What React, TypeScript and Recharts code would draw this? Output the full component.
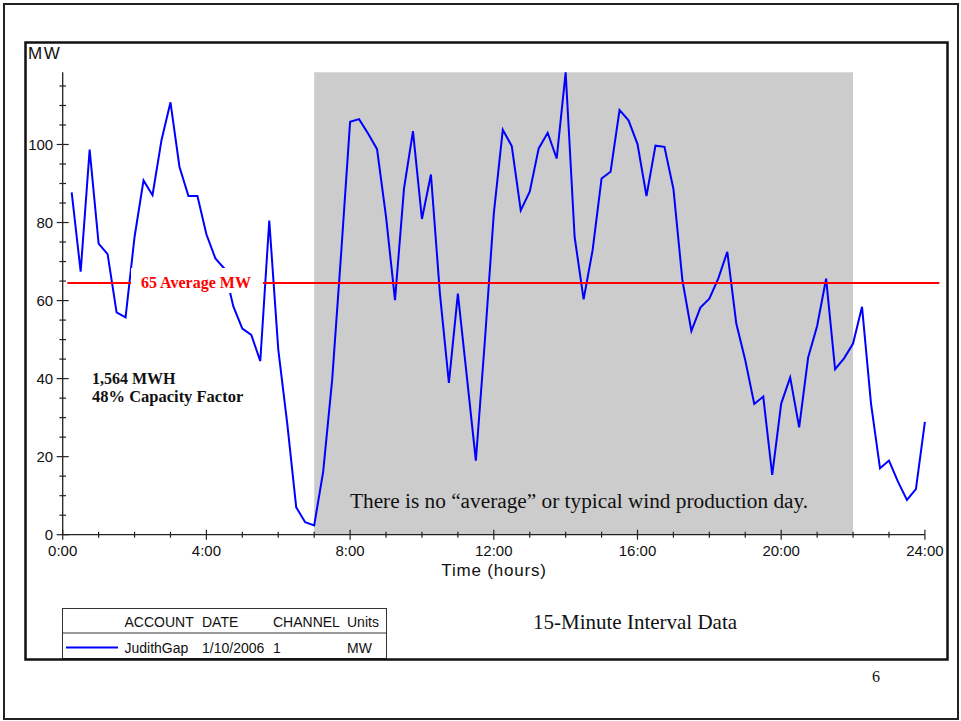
import { Legend, Line, LineChart, ReferenceArea, ReferenceLine, XAxis, YAxis } from "recharts";

// JudithGap, 1/10/2006, MW in 15-minute steps from 0:15 to 24:00
const MW = [
  87.7, 67.4, 98.7, 74.6, 71.9, 57.0, 55.7, 76.3,
  90.8, 87.0, 101.1, 110.8, 94.3, 86.8, 86.8, 77.0,
  70.8, 68.2, 58.5, 52.8, 51.2, 44.5, 80.5, 47.5,
  28.5, 7.0, 3.2, 2.4, 16.1, 39.6, 72.0, 105.8,
  106.5, 102.8, 98.8, 81.5, 60.1, 88.7, 103.4, 80.9,
  92.3, 61.8, 38.9, 61.8, 40.5, 19.0, 49.5, 82.3,
  103.8, 99.6, 83.1, 87.9, 99.0, 103.0, 96.4, 118.5,
  76.3, 60.3, 72.9, 91.3, 93.0, 108.8, 106.2, 100.1,
  86.8, 99.7, 99.4, 88.6, 65.2, 52.2, 58.2, 60.5,
  65.7, 72.5, 54.1, 44.7, 33.5, 35.4, 15.3, 33.6,
  40.3, 27.5, 45.4, 53.5, 65.6, 42.4, 45.2, 49.0,
  58.4, 33.6, 17.0, 19.0, 13.6, 8.9, 11.7, 28.9,
];

const X_TICKS = [0, 1, 2, 3, 4, 5, 6, 7, 8, 9, 10, 11, 12, 13, 14, 15, 16, 17, 18, 19, 20, 21, 22, 23, 24];
const X_LABELED = [0, 4, 8, 12, 16, 20, 24];
const Y_TICKS = [0, 5, 10, 15, 20, 25, 30, 35, 40, 45, 50, 55, 60, 65, 70, 75, 80, 85, 90, 95, 100, 105, 110, 115];
const Y_LABELED = [0, 20, 40, 60, 80, 100];

const AVERAGE_MW = 64.5;
const PEAK_HOURS = [7, 22];

const LEGEND_HEADERS = ["ACCOUNT", "DATE", "CHANNEL", "Units"];
const LEGEND_ROW = ["JudithGap", "1/10/2006", "1", "MW"];
const LEGEND_COLS = [62.5, 140, 211, 285];

const data = MW.map((mw, i) => ({ hour: (i + 1) * 0.25, mw }));

const SANS = "'Liberation Sans', Arial, sans-serif";
const SERIF = "'Liberation Serif', 'Times New Roman', serif";
const AXIS = "#222";

function XTick(props: any) {
  const { x, y, payload } = props;
  const major = X_LABELED.includes(payload.value);
  const r = major ? 5 : 3;
  return (
    <g>
      <line x1={x} x2={x} y1={y - r} y2={y + r} stroke={AXIS} strokeWidth={1.2} />
      {major && (
        <text x={x} y={y + 21.3} textAnchor="middle" fontFamily={SANS} fontSize={15} fill="#111">
          {payload.value + ":00"}
        </text>
      )}
    </g>
  );
}

function YTick(props: any) {
  const { x, y, payload } = props;
  const major = Y_LABELED.includes(payload.value);
  const r = major ? 6 : 3.3;
  return (
    <g>
      <line x1={x - r} x2={x + r} y1={y} y2={y} stroke={AXIS} strokeWidth={1.2} />
      {major && (
        <text x={x - 9.5} y={y + 5.3} textAnchor="end" fontFamily={SANS} fontSize={15} fill="#111">
          {payload.value}
        </text>
      )}
    </g>
  );
}

function LegendTable() {
  return (
    <svg width={325} height={51} style={{ display: "block" }}>
      <rect x={0.5} y={0.5} width={324} height={50} fill="#fff" stroke="#333" strokeWidth={1} />
      <line x1={0.5} x2={324.5} y1={25} y2={25} stroke="#333" strokeWidth={1} />
      <line x1={4} x2={56} y1={39.5} y2={39.5} stroke="#0000ff" strokeWidth={2} />
      {LEGEND_HEADERS.map((t, i) => (
        <text key={t} x={LEGEND_COLS[i]} y={19} fontFamily={SANS} fontSize={14} fill="#111">
          {t}
        </text>
      ))}
      {LEGEND_ROW.map((t, i) => (
        <text key={t} x={LEGEND_COLS[i]} y={45} fontFamily={SANS} fontSize={14} fill="#111">
          {t}
        </text>
      ))}
    </svg>
  );
}

export default function App() {
  return (
    <div style={{ position: "absolute", left: 0, top: 0, width: 961, height: 721, background: "#fff" }}>
      <LineChart
        width={961}
        height={721}
        data={data}
        margin={{ top: 72.3, right: 36.1, bottom: 156.3, left: 22.7 }}
      >
        <ReferenceArea
          x1={PEAK_HOURS[0]}
          x2={PEAK_HOURS[1]}
          y1={0}
          y2={118.5}
          fill="#cccccc"
          fillOpacity={1}
          stroke="none"
        />
        <XAxis
          type="number"
          dataKey="hour"
          domain={[0, 24]}
          ticks={X_TICKS}
          interval={0}
          height={30}
          tickSize={0}
          tickMargin={0}
          tickLine={false}
          axisLine={{ stroke: AXIS, strokeWidth: 1.3 }}
          tick={<XTick />}
        />
        <YAxis
          type="number"
          domain={[0, 118.5]}
          ticks={Y_TICKS}
          interval={0}
          width={40}
          tickSize={0}
          tickMargin={0}
          tickLine={false}
          axisLine={{ stroke: AXIS, strokeWidth: 1.3 }}
          tick={<YTick />}
        />
        <Line
          type="linear"
          dataKey="mw"
          stroke="#0000ff"
          strokeWidth={2}
          dot={false}
          activeDot={false}
          isAnimationActive={false}
        />
        <ReferenceLine
          segment={[
            { x: 0.13, y: AVERAGE_MW },
            { x: 24.4, y: AVERAGE_MW },
          ]}
          stroke="#ff0000"
          strokeWidth={2}
          ifOverflow="visible"
        />
        <Legend
          layout="vertical"
          align="center"
          verticalAlign="middle"
          content={() => <LegendTable />}
          wrapperStyle={{ left: 62, top: 608, width: 325, height: 51 }}
        />
      </LineChart>

      <svg
        width={961}
        height={721}
        style={{ position: "absolute", left: 0, top: 0, pointerEvents: "none" }}
      >
        {/* slide frame */}
        <rect x={4} y={4} width={954} height={715} fill="none" stroke="#222" strokeWidth={2} />
        <rect x={25.5} y={42.5} width={922} height={617} fill="none" stroke="#111" strokeWidth={2.5} />

        <text x={28} y={59} fontFamily={SANS} fontSize={17} letterSpacing={1.5} fill="#111">MW</text>
        <text x={494} y={575.5} textAnchor="middle" fontFamily={SANS} fontSize={17} letterSpacing={0.8} fill="#111">
          Time (hours)
        </text>

        <rect x={131} y={268} width={132} height={25} fill="#fff" />
        <text x={141} y={288} fontFamily={SERIF} fontWeight="bold" fontSize={16} fill="#ff0000">
          65 Average MW
        </text>

        <text x={92} y={384} fontFamily={SERIF} fontWeight="bold" fontSize={16} fill="#111">1,564 MWH</text>
        <text x={92} y={402} fontFamily={SERIF} fontWeight="bold" fontSize={16.5} fill="#111">48% Capacity Factor</text>

        <text x={350} y={508} fontFamily={SERIF} fontSize={21.3} fill="#111">
          There is no “average” or typical wind production day.
        </text>
        <text x={533} y={629} fontFamily={SERIF} fontSize={21} fill="#111">15-Minute Interval Data</text>
        <text x={872} y={682} fontFamily={SERIF} fontSize={16} fill="#111">6</text>
      </svg>
    </div>
  );
}
